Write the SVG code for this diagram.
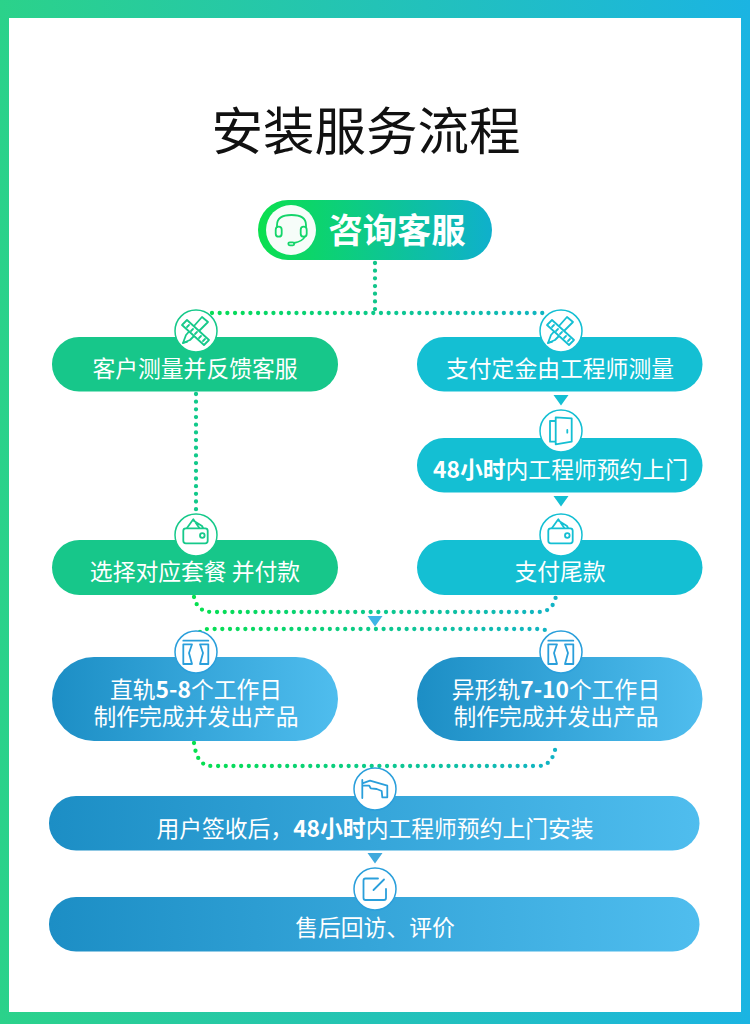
<svg xmlns="http://www.w3.org/2000/svg" width="750" height="1034" viewBox="0 0 750 1034">
<style>
text{font-family:"Noto Sans CJK SC","Noto Sans",sans-serif;text-anchor:middle;fill:#fff;font-size:22.800px}
.b{font-weight:700}
.dot{fill:none;stroke-width:4.300;stroke-linecap:round;stroke-dasharray:0 7.68}
.ic{fill:none;stroke-width:1.800;stroke-linejoin:round;stroke-linecap:round}
.fw{fill:#fff}
.disc{fill:#fff;stroke-width:1.500}
.g{stroke:#16c98a}.t{stroke:#14bfd3}.u{stroke:#2a9fdb}
</style>
<defs>
<linearGradient id="frame" x1="0" x2="1" y1="0" y2="0"><stop offset="0" stop-color="#2bd28a"/><stop offset="1" stop-color="#1bb4e2"/></linearGradient>
<linearGradient id="top" x1="0" x2="1" y1="0" y2="0"><stop offset="0" stop-color="#0be04e"/><stop offset="1" stop-color="#0fb0cc"/></linearGradient>
<linearGradient id="blue" x1="0" x2="1" y1="0" y2="0"><stop offset="0" stop-color="#1c8ec5"/><stop offset="1" stop-color="#4fbdee"/></linearGradient>
<linearGradient id="dots" gradientUnits="userSpaceOnUse" x1="194" x2="556" y1="0" y2="0"><stop offset="0" stop-color="#06e04f"/><stop offset="1" stop-color="#12b3c6"/></linearGradient>
<g id="ruler"><path class="ic" d="M6-14 12-9-6 9-13 12-10 4Z"/><path class="ic fw" d="M-14-6-9-11 13 9 8 14Z"/><path class="ic" d="M-9-4-7-6M-5 0-3-2M-1 3 1 1M3 7 5 5M7 10 9 8M-13 12-9 11"/></g>
<g id="wallet"><path class="ic" d="M-9-7-2.700-15.700 3.300-7M-2-14 6-9 7-7"/><rect class="ic" x="-12.700" y="-6.700" width="24.400" height="15" rx="2.500"/><circle class="ic" cx="6.300" cy="0.500" r="2.300"/></g>
<g id="curtain"><path class="ic" d="M-12.700-11.300H12.300M-12.700-7.700H-4L-7 1-4 12H-12.700ZM4-7.700H12.300V12H4L7 1Z"/></g>
</defs>
<path id="frame-band" fill="url(#frame)" fill-rule="evenodd" d="M0 0H750V1024H0ZM9 18V1012H741V18Z"/>
<text x="366" y="150" style="font-size:51.500px;fill:#111" id="title">安装服务流程</text>

<g id="connectors">
<path class="dot" stroke="url(#dots)" d="M212 313H543"/>
<path class="dot" stroke="#11c58a" d="M375 263V313"/>
<path class="dot" stroke="#11c98a" d="M196 394V516"/>
<path class="dot" stroke="url(#dots)" d="M194 597C196 606 201 612 212 612H538C549 612 554 606 556 596"/>
<path class="dot" stroke="url(#dots)" d="M200 632Q203 629 208 629H538Q544 629 550 632"/>
<path class="dot" stroke="url(#dots)" d="M194 743C196 758 201 766 212 766H538C549 766 554 758 556 745"/>
<path d="M553.500 395H568.500L561 405.500Z" fill="#14bfd3"/>
<path d="M553.500 496H568.500L561 506.500Z" fill="#14bfd3"/>
<path d="M367.500 616H382.500L375 626.500Z" fill="#3fb4e6"/>
<path d="M367.500 853H382.500L375 863.500Z" fill="#3fa9dd"/>
</g>

<g id="n-consult"><rect x="258" y="200" width="234" height="60" rx="30" fill="url(#top)"/><circle cx="291" cy="230" r="25" fill="#f6fdf9"/>
<g fill="none" stroke="#14d56a" stroke-width="1.800" stroke-linecap="round"><path d="M277 227V225Q277 215 291.500 215 306 215 306 225V227"/><rect x="275.700" y="226.700" width="6" height="10" rx="3"/><rect x="300.700" y="226.700" width="6" height="10" rx="3"/><path d="M304.500 237Q303 241 294 243"/><rect x="288.300" y="242.300" width="6" height="3" rx="1.500"/></g>
<text class="b" x="397" y="243" style="font-size:34.300px">咨询客服</text></g>

<g id="n-measure-self"><rect x="52" y="337" width="286" height="54.500" rx="27" fill="#17c78a"/><circle class="disc g" cx="196" cy="331" r="21"/><use href="#ruler" x="196" y="331" stroke="#16c98a"/><text x="195" y="377">客户测量并反馈客服</text></g>
<g id="n-deposit"><rect x="417" y="337" width="285.500" height="54.500" rx="27" fill="#14bfd3"/><circle class="disc t" cx="561" cy="331" r="21"/><use href="#ruler" x="561" y="331" stroke="#14bfd3"/><text x="560" y="377">支付定金由工程师测量</text></g>
<g id="n-appoint"><rect x="417" y="438" width="285.500" height="54.500" rx="27" fill="#14bfd3"/><circle class="disc t" cx="561" cy="431" r="21"/><path class="ic t" d="M555.700 421H550V441.700H555.700M555.700 417.300 571.700 418.300V441.700L555.700 444.300ZM567.300 430V432.700"/><text x="560.500" y="478"><tspan class="b">48小时</tspan>内工程师预约上门</text></g>
<g id="n-package"><rect x="52" y="540" width="286" height="55" rx="27.500" fill="#17c78a"/><circle class="disc g" cx="196" cy="535" r="21"/><use href="#wallet" x="196" y="535" stroke="#16c98a"/><text x="195" y="580">选择对应套餐 并付款</text></g>
<g id="n-balance"><rect x="417" y="540" width="285.500" height="55" rx="27.500" fill="#14bfd3"/><circle class="disc t" cx="561" cy="535" r="21"/><use href="#wallet" x="561" y="535" stroke="#14bfd3"/><text x="560" y="580">支付尾款</text></g>
<g id="n-straight"><rect x="52" y="657" width="286" height="84" rx="42" fill="url(#blue)"/><circle class="disc u" cx="196" cy="652" r="21"/><use href="#curtain" x="196" y="652" stroke="#2a9fdb"/><text x="196" y="698">直轨<tspan class="b">5-8</tspan>个工作日</text><text x="196" y="725">制作完成并发出产品</text></g>
<g id="n-shaped"><rect x="417" y="657" width="285.500" height="84" rx="42" fill="url(#blue)"/><circle class="disc u" cx="561" cy="652" r="21"/><use href="#curtain" x="561" y="652" stroke="#2a9fdb"/><text x="556" y="698">异形轨<tspan class="b">7-10</tspan>个工作日</text><text x="556" y="725">制作完成并发出产品</text></g>
<g id="n-install"><rect x="49" y="796" width="650.500" height="54.500" rx="27" fill="url(#blue)"/><circle class="disc u" cx="375" cy="789" r="21"/><path class="ic u" d="M362.300 780V798M362.300 785.700H369.300L370.700 788.300 376.700 789 381.700 791 382.300 797.300H387.300V785.700L370 780.700 362.300 783.300"/><text x="375" y="837">用户签收后，<tspan class="b">48小时</tspan>内工程师预约上门安装</text></g>
<g id="n-review"><rect x="49" y="897" width="650.500" height="54.500" rx="27" fill="url(#blue)"/><circle class="disc u" cx="375" cy="889" r="21"/><path class="ic u" d="M378 878.500H365.500Q363.500 878.500 363.500 880.500V898Q363.500 900 365.500 900H384Q386 900 386 898V889"/><path class="ic u" stroke-width="2.500" d="M373.500 890 384 879.500"/><text x="375" y="936">售后回访、评价</text></g>
</svg>
